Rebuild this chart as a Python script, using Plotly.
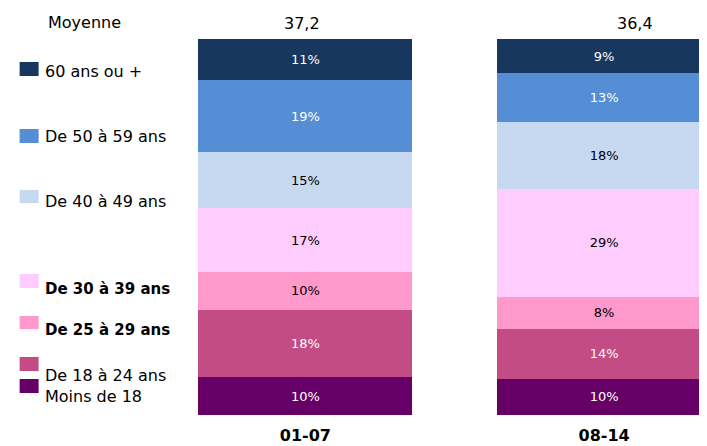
import plotly.graph_objects as go

periods = ["01-07", "08-14"]
moyennes = ["37,2", "36,4"]
groups = ["Moins de 18", "De 18 à 24 ans", "De 25 à 29 ans", "De 30 à 39 ans",
          "De 40 à 49 ans", "De 50 à 59 ans", "60 ans ou +"]
# values per group (bottom to top), for 01-07 and 08-14
values = {
    "Moins de 18":    [10, 9.6],
    "De 18 à 24 ans": [18, 13.3],
    "De 25 à 29 ans": [10, 8.5],
    "De 30 à 39 ans": [17, 28.7],
    "De 40 à 49 ans": [15, 17.8],
    "De 50 à 59 ans": [19, 13.0],
    "60 ans ou +":    [11, 9.1],
}
labels = {
    "Moins de 18":    ["10%", "10%"],
    "De 18 à 24 ans": ["18%", "14%"],
    "De 25 à 29 ans": ["10%", "8%"],
    "De 30 à 39 ans": ["17%", "29%"],
    "De 40 à 49 ans": ["15%", "18%"],
    "De 50 à 59 ans": ["19%", "13%"],
    "60 ans ou +":    ["11%", "9%"],
}
colors = {
    "Moins de 18": "#660066",
    "De 18 à 24 ans": "#C34C85",
    "De 25 à 29 ans": "#FF99CC",
    "De 30 à 39 ans": "#FFCCFF",
    "De 40 à 49 ans": "#C6D9F1",
    "De 50 à 59 ans": "#558ED5",
    "60 ans ou +": "#17375E",
}
textcolors = {
    "Moins de 18": "white", "De 18 à 24 ans": "white", "De 25 à 29 ans": "black",
    "De 30 à 39 ans": "black", "De 40 à 49 ans": "black", "De 50 à 59 ans": "white",
    "60 ans ou +": "white",
}
FONT = "DejaVu Sans"

# the page body has an 8px margin: figure pixel = screen pixel - 8
OFF = 8
W_FIG, H_FIG = 707 - OFF, 446 - OFF
L, R, T, B = 155.5 - OFF, 707 - OFF, 39 - OFF, 415 - OFF
PW, PH = R - L, B - T

def px(x):
    return (x - OFF - L) / PW

def py(y):
    return (B - (y - OFF)) / PH

fig = go.Figure()
for g in groups:
    fig.add_trace(go.Bar(
        x=periods, y=values[g], name=g, text=labels[g],
        textposition="inside", insidetextanchor="middle", textangle=0,
        textfont=dict(family=FONT, size=13, color=textcolors[g]),
        marker=dict(color=colors[g], line=dict(width=0)),
        width=0.716, showlegend=False, hoverinfo="skip",
    ))

# custom legend: (group, square top px, square bottom px, text center px, bold)
legend_pos = [
    ("60 ans ou +", 62, 76, 71, False),
    ("De 50 à 59 ans", 129, 143, 136, False),
    ("De 40 à 49 ans", 190, 203, 201, False),
    ("De 30 à 39 ans", 274, 288, 289, True),
    ("De 25 à 29 ans", 316, 329, 330, True),
    ("De 18 à 24 ans", 357, 371, 375, False),
    ("Moins de 18", 379, 393, 396, False),
]
shapes = []
annotations = []
for g, y0, y1, yt, bold in legend_pos:
    shapes.append(dict(type="rect", xref="paper", yref="paper",
                       x0=px(19), x1=px(38), y0=py(y1), y1=py(y0),
                       fillcolor=colors[g], line=dict(width=0)))
    txt = f"<b>{g}</b>" if bold else g
    annotations.append(dict(xref="paper", yref="paper", x=px(42), y=py(yt),
                            xanchor="left", yanchor="middle", text=txt,
                            showarrow=False,
                            font=dict(family=FONT, size=15 if bold else 16, color="black")))

annotations.append(dict(xref="paper", yref="paper", x=px(84), y=py(23),
                        xanchor="center", yanchor="middle", text="Moyenne",
                        showarrow=False, font=dict(family=FONT, size=16, color="black")))
moy_x = [302, 635]
for m, mx in zip(moyennes, moy_x):
    annotations.append(dict(xref="paper", yref="paper", x=px(mx), y=py(24),
                            xanchor="center", yanchor="middle", text=m,
                            showarrow=False, font=dict(family=FONT, size=16, color="black")))

fig.update_layout(
    width=W_FIG, height=H_FIG,
    margin=dict(l=L, r=W_FIG - R, t=T, b=H_FIG - B, pad=0, autoexpand=False),
    barmode="stack",
    plot_bgcolor="white", paper_bgcolor="white",
    xaxis=dict(type="category", range=[-0.5, -0.5 + PW / 299], showgrid=False,
               zeroline=False, showline=False, ticks="", ticklabelstandoff=9,
               automargin=False,
               tickfont=dict(family=FONT, size=16, color="black", weight="bold")),
    yaxis=dict(range=[0, 100], visible=False, automargin=False),
    shapes=shapes, annotations=annotations,
)

fig.write_html("out.html")
